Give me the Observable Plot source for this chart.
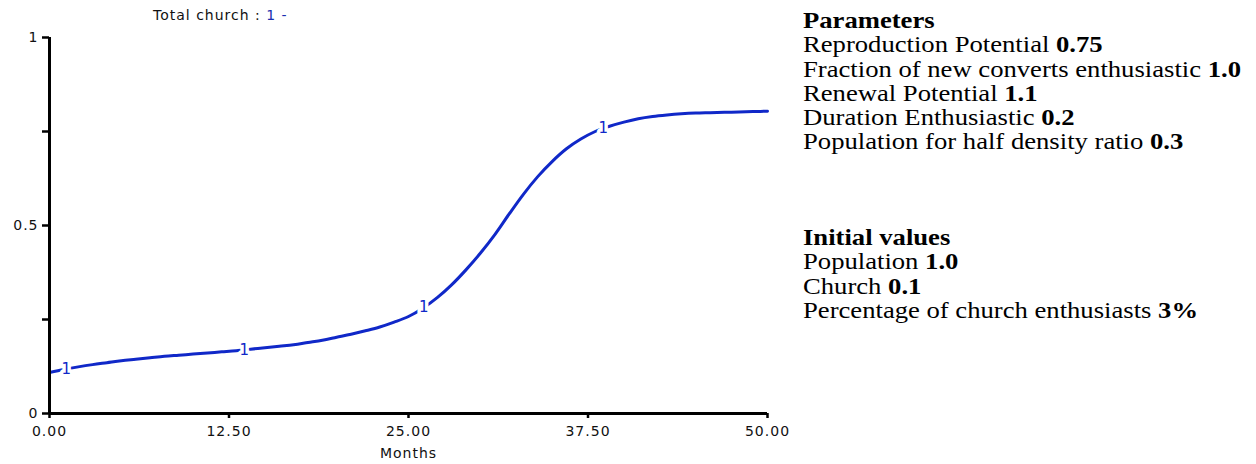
<!DOCTYPE html>
<html>
<head>
<meta charset="utf-8">
<script src="https://cdn.jsdelivr.net/npm/d3@7"></script>
<script src="https://cdn.jsdelivr.net/npm/@observablehq/plot@0.6"></script>
<style>
  html, body { margin: 0; padding: 0; background: #fff; }
  #wrap { position: relative; width: 1256px; height: 464px; overflow: hidden; }
  #chart { position: absolute; left: 0; top: 0; }
  #title { position: absolute; left: 153px; top: 7px; font-family: "DejaVu Sans", sans-serif; font-size: 14px; letter-spacing: 1px; color: #111; white-space: pre; }
  #title .s { color: #1a2fb0; }
  .panel { position: absolute; left: 803px; font-family: "Liberation Serif", "Times New Roman", serif; font-size: 24px; line-height: 24.3px; color: #000; white-space: nowrap; transform: scaleX(1.11); transform-origin: 0 0; }
  #p1 { top: 8px; }
  #p2 { top: 225px; }
</style>
</head>
<body>
<div id="wrap">
  <div id="chart"></div>
  <div id="title">Total church : <span class="s">1 -</span></div>
  <div class="panel" id="p1"></div>
  <div class="panel" id="p2"></div>
</div>
<script>
// ---- data ----
const months = [0,1,2,3,4,5,6,7,8,9,10,11,12,13,14,15,16,17,18,19,20,21,22,23,24,25,26,27,28,29,30,31,32,33,34,35,36,37,38,39,40,41,42,43,44,45,46,47,48,49,50];
const totalChurch = [0.109,0.117,0.124,0.130,0.135,0.140,0.144,0.148,0.152,0.155,0.158,0.161,0.164,0.167,0.171,0.175,0.179,0.183,0.189,0.195,0.203,0.211,0.220,0.230,0.243,0.258,0.280,0.308,0.342,0.382,0.426,0.475,0.530,0.583,0.630,0.670,0.704,0.730,0.750,0.764,0.775,0.784,0.790,0.794,0.797,0.799,0.800,0.801,0.802,0.803,0.804];
const labelMonths = [1.2, 13.6, 26.1, 38.6];
const xTicks = [0, 12.5, 25, 37.5, 50];
const yTicks = [0, 0.25, 0.5, 0.75, 1];
const yTickLabels = {0: "0", 0.5: "0.5", 1: "1"};

const paramNames = ["Reproduction Potential", "Fraction of new converts enthusiastic", "Renewal Potential", "Duration Enthusiastic", "Population for half density ratio"];
const paramValues = ["0.75", "1.0", "1.1", "0.2", "0.3"];
const initNames = ["Population", "Church", "Percentage of church enthusiasts"];
const initValues = ["1.0", "0.1", "3%"];

// ---- build ----
const data = months.map((m, i) => ({month: m, value: totalChurch[i]}));
const interp = m => {
  const i = d3.bisectRight(months, m) - 1;
  const j = Math.min(i + 1, months.length - 1);
  const t = j === i ? 0 : (m - months[i]) / (months[j] - months[i]);
  return totalChurch[i] + t * (totalChurch[j] - totalChurch[i]);
};
const labels = labelMonths.map(m => ({month: m, value: interp(m)}));

const blue = "#1028c8";

const chart = Plot.plot({
  width: 790,
  height: 464,
  marginLeft: 49,
  marginRight: 23,
  marginTop: 37,
  marginBottom: 51,
  style: {fontFamily: "DejaVu Sans, sans-serif", fontSize: "14px", color: "#111", letterSpacing: "1px", background: "white"},
  x: {domain: [0, 50]},
  y: {domain: [0, 1]},
  marks: [
    Plot.line(data, {x: "month", y: "value", stroke: blue, strokeWidth: 3, curve: "monotone-x"}),
    Plot.text(labels, {x: "month", y: "value", text: () => "1", fill: blue, stroke: "white", strokeWidth: 7, fontSize: 15}),
    Plot.axisX({ticks: xTicks, tickFormat: d3.format(".2f"), tickSize: 5, strokeWidth: 2.5, tickPadding: 8, fontSize: 14, label: "Months", labelAnchor: "center", labelArrow: "none", labelOffset: 44, stroke: "#000", fill: "#111"}),
    Plot.axisY({ticks: yTicks, tickFormat: d => yTickLabels[d] ?? "", tickSize: 7, strokeWidth: 2.5, tickPadding: 4, fontSize: 14, label: null, stroke: "#000", fill: "#111"}),
    Plot.ruleX([0], {stroke: "#000", strokeWidth: 3}),
    Plot.ruleY([0], {stroke: "#000", strokeWidth: 3})
  ]
});
document.getElementById("chart").appendChild(chart);

const p1 = document.getElementById("p1");
p1.innerHTML = "<b>Parameters</b><br>" + paramNames.map((n, i) => `${n} <b>${paramValues[i]}</b>`).join("<br>");
const p2 = document.getElementById("p2");
p2.innerHTML = "<b>Initial values</b><br>" + initNames.map((n, i) => `${n} <b>${initValues[i]}</b>`).join("<br>");
</script>
</body>
</html>
